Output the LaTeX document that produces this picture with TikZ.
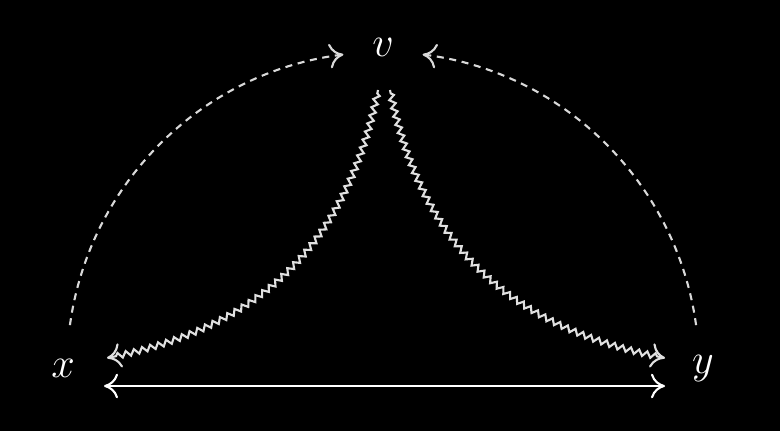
\documentclass[tikz,border=0pt]{standalone}
\usetikzlibrary{arrows.meta,decorations.pathmorphing}
\begin{document}
\begin{tikzpicture}[x=0.01cm,y=-0.01cm,
  lbl/.style={text=white,inner sep=0pt,font=\large},
  base/.style={line width=0.6pt,arrows={-Computer Modern Rightarrow[length=4pt,width=7pt]}},
  dsh/.style={base,draw=white!85!black,dash pattern=on 2pt off 1.6pt},
  zig/.style={base,draw=white!88!black,decorate,decoration={zigzag,segment length=2.4pt,amplitude=0.8pt,pre length=1pt,post length=2pt}},
  solid arrow/.style={base,draw=white,arrows={Computer Modern Rightarrow[length=4pt,width=7pt]-Computer Modern Rightarrow[length=4pt,width=7pt]}}]
\fill[black] (0,0) rectangle (780,431);
\useasboundingbox (0,0) rectangle (780,431);
\node[lbl] (v) at (383,47) {$v$};
\node[lbl] (x) at (63,368) {$x$};
\node[lbl] (y) at (703,369) {$y$};
\coordinate (c) at (383,368);
\coordinate (xb) at (104,386);
\coordinate (yb) at (665,386);
\coordinate (xz) at (107,358);
\coordinate (yz) at (665,358);
\coordinate (vl) at (378,90);
\coordinate (vr) at (390,90);
\draw[solid arrow] (xb) -- (yb);
\draw[zig] (vl) .. controls (345,255) and (250,330) .. (xz);
\draw[zig] (vr) .. controls (423,255) and (520,330) .. (yz);
\draw[dsh] (c) ++(-172.2:316) arc[start angle=-172.2,end angle=-97.2,radius=316];
\draw[dsh] (c) ++(-7.8:316) arc[start angle=-7.8,end angle=-82.8,radius=316];
\end{tikzpicture}
\end{document}
